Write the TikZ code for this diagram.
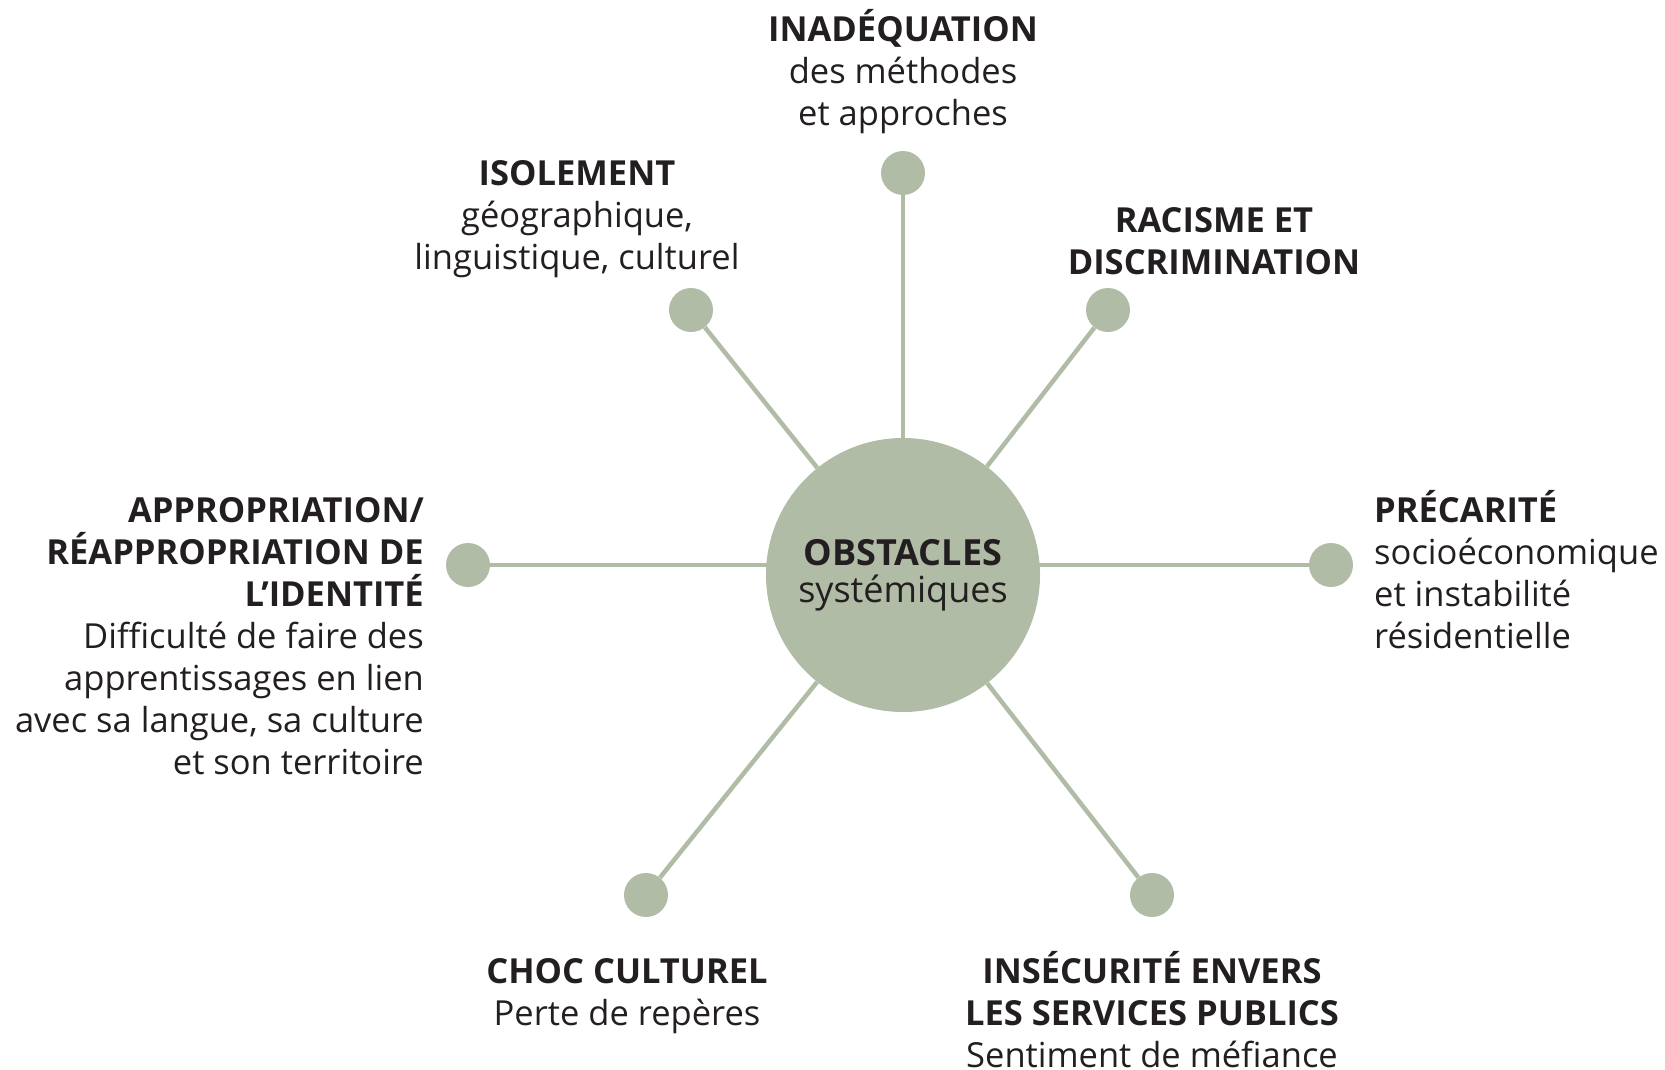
\documentclass[tikz,border=0pt]{standalone}
\usepackage{fontspec}
\setmainfont{Open Sans}
\usetikzlibrary{backgrounds}
\definecolor{sage}{HTML}{B1BCA6}
\definecolor{txt}{HTML}{231F20}
\tikzset{
  lab/.style={font=\fontsize{34.5}{42}\selectfont, inner sep=0pt, text=txt},
  dot/.style={circle, fill=sage, minimum size=44pt, inner sep=0pt},
  hub/.style={circle, fill=sage, minimum size=274pt, inner sep=0pt, text=txt, align=center, font=\fontsize{36}{37}\selectfont},
  spoke/.style={draw=sage, line width=4.5pt}
}
\newcommand{\hd}[1]{\rule{0pt}{32pt}\textbf{#1}}
\begin{document}
\begin{tikzpicture}[x=1pt,y=-1pt]
\useasboundingbox (0,0) rectangle (1665,1070);
\node[hub] (c) at (903,575) {\textbf{OBSTACLES}\\systémiques};
\node[dot] (dTop) at (903,173) {};
\node[dot] (dIso) at (691,310) {};
\node[dot] (dRac) at (1108,310) {};
\node[dot] (dLeft) at (468,565) {};
\node[dot] (dRight) at (1331,565) {};
\node[dot] (dChoc) at (646,895) {};
\node[dot] (dIns) at (1152,895) {};
\begin{scope}[on background layer]
\draw[spoke] (dTop) -- (c);
\draw[spoke] (dIso) -- (c);
\draw[spoke] (dRac) -- (c);
\draw[spoke] (dChoc) -- (c);
\draw[spoke] (dIns) -- (c);
\draw[spoke] (dLeft) -- (dLeft -| c.center);
\draw[spoke] (dRight) -- (dRight -| c.center);
\end{scope}
\node[lab, anchor=north, align=center] (tTop) at (903,9) {\hd{INADÉQUATION}\\des méthodes\\et approches};
\node[lab, anchor=north, align=center] (tIso) at (577,153) {\hd{ISOLEMENT}\\géographique,\\linguistique, culturel};
\node[lab, anchor=north, align=center] (tRac) at (1214,200) {\hd{RACISME ET}\\\textbf{DISCRIMINATION}};
\node[lab, anchor=north east, align=right] (tLeft) at (424,490) {\hd{APPROPRIATION/}\\\textbf{RÉAPPROPRIATION DE}\\\textbf{L’IDENTITÉ}\\Difficulté de faire des\\apprentissages en lien\\avec sa langue, sa culture\\et son territoire};
\node[lab, anchor=north west, align=left] (tRight) at (1374,490) {\hd{PRÉCARITÉ}\\socioéconomique\\et instabilité\\résidentielle};
\node[lab, anchor=north, align=center] (tChoc) at (627,951) {\hd{CHOC CULTUREL}\\Perte de repères};
\node[lab, anchor=north, align=center] (tIns) at (1152,951) {\hd{INSÉCURITÉ ENVERS}\\\textbf{LES SERVICES PUBLICS}\\Sentiment de méfiance};
\end{tikzpicture}
\end{document}
